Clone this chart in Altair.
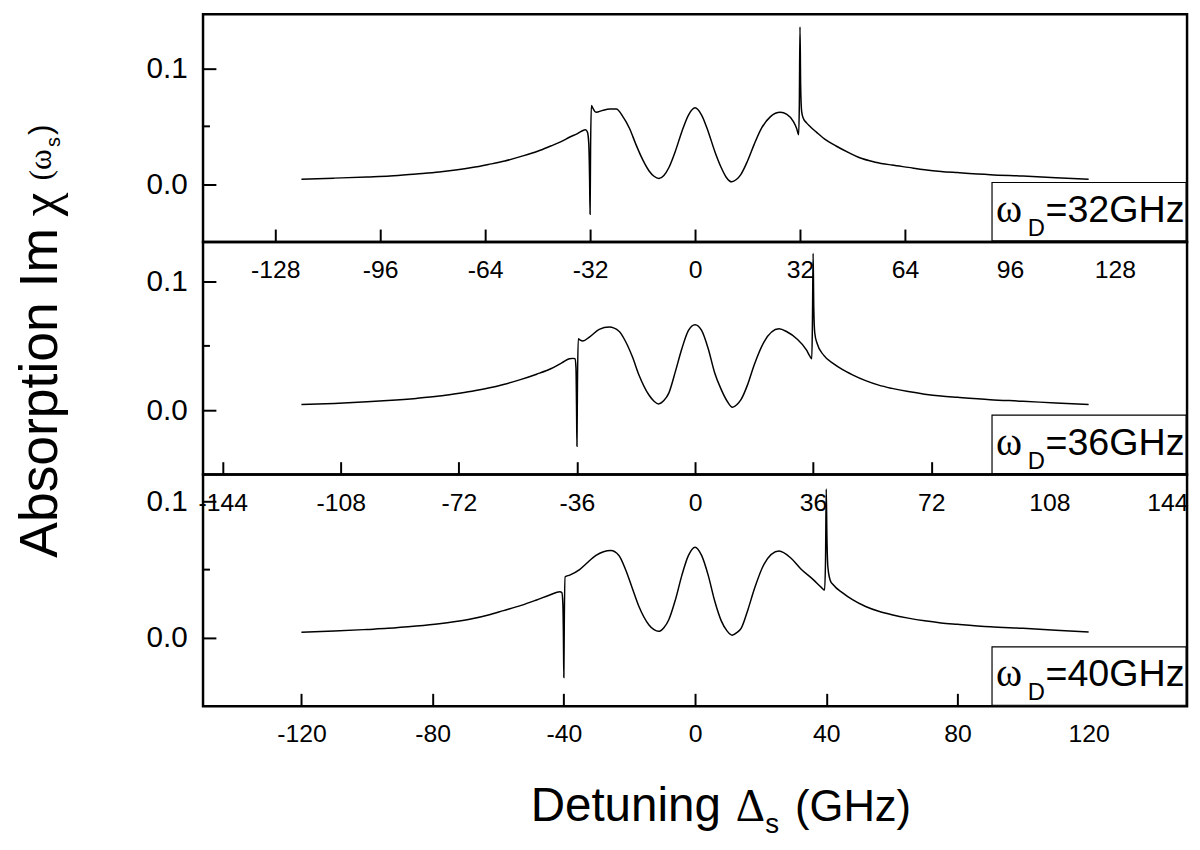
import altair as alt
import pandas as pd

# ---------------- data ----------------
# panel 1 : omega_D = 32 GHz
p1_x = [-120, -110, -100, -93, -85, -78, -73, -68, -63, -58, -53, -48, -44, -41, -38, -36,
        -34.5, -33.4, -32.8, -32.4, -32.15, -32.0, -31.85, -31.6, -31.2, -30.2, -28, -26, -24,
        -22, -20, -18, -16, -14, -12.5, -11, -9.5, -8, -6, -4, -2, 0, 2, 4, 6, 8, 9.5, 11.2,
        12.6, 14, 16, 18, 20, 23, 26, 28, 30, 31.0, 31.6, 31.8, 32.0, 32.2, 32.5, 33, 34, 35,
        37, 40, 43, 47, 50, 55, 60, 65, 70, 75, 80, 90, 100, 110, 120]
p1_y = [0.0043, 0.0052, 0.0062, 0.0070, 0.0088, 0.0105, 0.0122, 0.0143, 0.0170, 0.0200,
        0.0240, 0.0285, 0.0330, 0.0365, 0.0410, 0.0435, 0.0460, 0.0470, 0.0450, 0.0350,
        0.0050, -0.0260, 0.0300, 0.0680, 0.0660, 0.0621, 0.0640, 0.0650, 0.0650, 0.0584,
        0.0484, 0.0342, 0.0214, 0.0114, 0.0068, 0.0049, 0.0075, 0.0142, 0.0285, 0.0456,
        0.0598, 0.0660, 0.0598, 0.0456, 0.0285, 0.0142, 0.0060, 0.0020, 0.0040, 0.0085,
        0.0200, 0.0342, 0.0470, 0.0584, 0.0621, 0.0604, 0.0540, 0.0480, 0.0427, 0.0700,
        0.1360, 0.0850, 0.0630, 0.0570, 0.0530, 0.0500, 0.0450, 0.0380, 0.0330, 0.0270,
        0.0230, 0.0190, 0.0165, 0.0145, 0.0125, 0.0110, 0.0100, 0.0082, 0.0070, 0.0056,
        0.0043]

# panel 2 : omega_D = 36 GHz
p2_x = [-120, -110, -100, -93.7, -85, -78, -73.5, -68, -63, -58.4, -53, -48.3, -44, -40.5,
        -38.3, -37.2, -36.6, -36.3, -36.12, -36.0, -35.85, -35.6, -35.0, -34.2, -32.2, -29.2,
        -26.2, -23.1, -21.1, -19.1, -17.1, -14.1, -12.5, -11.1, -9.5, -8, -6, -4, -2, 0, 2,
        4, 6, 8, 9.8, 11.4, 12.8, 14, 16, 18, 21, 25.6, 28, 31, 34, 35.0, 35.6, 35.8, 36.0,
        36.2, 36.5, 37.2, 39.2, 42.3, 45, 48, 52, 56, 60, 65, 70, 75, 80, 90, 100, 110, 120]
p2_y = [0.0044, 0.0053, 0.0065, 0.0075, 0.0092, 0.0110, 0.0126, 0.0148, 0.0172, 0.0200,
        0.0240, 0.0280, 0.0322, 0.0370, 0.0400, 0.0403, 0.0400, 0.0330, 0.0000, -0.0280,
        0.0200, 0.0556, 0.0545, 0.0538, 0.0569, 0.0628, 0.0646, 0.0612, 0.0530, 0.0415,
        0.0274, 0.0120, 0.0070, 0.0049, 0.0075, 0.0133, 0.0300, 0.0480, 0.0620, 0.0664,
        0.0620, 0.0480, 0.0290, 0.0160, 0.0070, 0.0023, 0.0045, 0.0082, 0.0197, 0.0350,
        0.0530, 0.0633, 0.0610, 0.0556, 0.0467, 0.0420, 0.0400, 0.0700, 0.1220, 0.0800,
        0.0600, 0.0520, 0.0428, 0.0360, 0.0315, 0.0275, 0.0230, 0.0195, 0.0170, 0.0145,
        0.0125, 0.0110, 0.0100, 0.0082, 0.0070, 0.0056, 0.0044]

# panel 3 : omega_D = 40 GHz
p3_x = [-120, -110, -100, -93.7, -85, -78, -73.5, -68, -63, -58.4, -53, -48.3, -44.3, -41.2,
        -40.6, -40.3, -40.12, -40.0, -39.85, -39.6, -38.2, -35.2, -33.2, -30.2, -25.7, -23.2,
        -21.1, -19.1, -17.1, -14.1, -12.5, -11.1, -9.5, -8, -6, -4, -2, 0, 2, 4, 6, 8, 9.8,
        11.3, 12.8, 14.1, 16.1, 18.1, 21.1, 25.6, 29.2, 32.2, 36.2, 38.5, 39.5, 39.8, 40.0,
        40.2, 40.5, 41.2, 42.2, 45, 48, 52, 56, 60, 65, 70, 75, 80, 90, 100, 110, 120]
p3_y = [0.0041, 0.0050, 0.0062, 0.0070, 0.0087, 0.0104, 0.0118, 0.0140, 0.0168, 0.0200,
        0.0238, 0.0278, 0.0314, 0.0338, 0.0332, 0.0250, 0.0000, -0.0290, 0.0150, 0.0447,
        0.0460, 0.0500, 0.0543, 0.0604, 0.0640, 0.0604, 0.0495, 0.0362, 0.0230, 0.0097,
        0.0060, 0.0048, 0.0075, 0.0133, 0.0278, 0.0460, 0.0604, 0.0664, 0.0604, 0.0460,
        0.0270, 0.0125, 0.0050, 0.0020, 0.0040, 0.0072, 0.0205, 0.0360, 0.0543, 0.0636,
        0.0585, 0.0507, 0.0423, 0.0370, 0.0350, 0.0600, 0.1090, 0.0750, 0.0520, 0.0423,
        0.0387, 0.0330, 0.0280, 0.0230, 0.0195, 0.0170, 0.0145, 0.0125, 0.0110, 0.0100,
        0.0082, 0.0070, 0.0056, 0.0044]

x_ticks_1 = [-128, -96, -64, -32, 0, 32, 64, 96, 128]
x_ticks_2 = [-144, -108, -72, -36, 0, 36, 72, 108, 144]
x_ticks_3 = [-120, -80, -40, 0, 40, 80, 120]
y_ticks = [0.0, 0.1]
y_minor = [0.05]
labels = ["32", "36", "40"]

X_DOMAIN = [-150, 150]
W = 994
FONT = "Liberation Sans"
SERIF = "Liberation Serif"
one = pd.DataFrame({"a": [0]})


def txt(s, x, y, size, font=FONT, angle=0, align="left"):
    return alt.Chart(one).mark_text(
        text=s, font=font, fontSize=size, align=align, baseline="alphabetic",
        color="black", angle=angle
    ).encode(x=alt.value(x), y=alt.value(y))


def panel(xs, ys, h, ydom, xticks, lab, extra):
    df = pd.DataFrame({"d": xs, "v": ys})
    xsc = alt.Scale(domain=X_DOMAIN, nice=False, zero=False)
    ysc = alt.Scale(domain=ydom, nice=False, zero=False)
    xax = alt.Axis(values=xticks, title=None, grid=False, domain=False, offset=-13,
                   tickSize=13, tickWidth=2, tickColor="black", labelFontSize=25,
                   labelPadding=16, labelFont=FONT, labelColor="black",
                   labelExpr="'' + datum.value", labelFlush=False, labelOverlap=False)
    yax = alt.Axis(values=y_ticks, format=".1f", title=None, grid=False, domain=False,
                   offset=-13, tickSize=13, tickWidth=2, tickColor="black",
                   labelFontSize=30, labelPadding=16, labelFont=FONT, labelColor="black",
                   labelFlush=False, labelOverlap=False)
    line = alt.Chart(df).mark_line(color="black", strokeWidth=1.5,
                                   interpolate="monotone").encode(
        x=alt.X("d:Q", scale=xsc, axis=xax),
        y=alt.Y("v:Q", scale=ysc, axis=yax),
    )
    minor = alt.Chart(pd.DataFrame({"v": y_minor})).mark_rule(
        color="black", strokeWidth=2).encode(
        y=alt.Y("v:Q", scale=ysc, axis=yax),
        x=alt.value(0), x2=alt.value(7),
    )
    box = alt.Chart(one).mark_rect(fill="white", stroke="black", strokeWidth=1.2).encode(
        x=alt.value(797), x2=alt.value(993), y=alt.value(h - 60), y2=alt.value(h - 1)
    )
    layers = [line, minor, box,
              txt("ω", 801, h - 20, 40, SERIF),
              txt("D", 833, h - 6, 24),
              txt("=" + lab + "GHz", 851, h - 20, 38)] + extra
    return alt.layer(*layers).properties(width=W, height=h)


# y axis title pieces (placed in the middle panel, whose top is at y=0)
ytitle = [
    txt("Absorption Im", -148, 319, 54, angle=270),
    txt("χ", -148, -26, 54, SERIF, angle=270),
    txt("(ω", -154, -62, 32, SERIF, angle=270),
    txt("s", -144, -96, 20, angle=270),
    txt(")", -154, -108, 32, angle=270),
]
# x axis title pieces (placed in the bottom panel)
xtitle = [
    txt("Detuning", 331, 350, 48),
    txt("Δ", 538, 350, 46, SERIF),
    txt("s", 568, 362, 28),
    txt("(GHz)", 598, 350, 44),
]

c1 = panel(p1_x, p1_y, 230, [-0.05, 0.147], x_ticks_1, labels[0], [])
c2 = panel(p2_x, p2_y, 235, [-0.05, 0.1308], x_ticks_2, labels[1], ytitle)
c3 = panel(p3_x, p3_y, 234, [-0.05, 0.1196], x_ticks_3, labels[2], xtitle)

chart = alt.vconcat(c1, c2, c3, spacing=0, bounds="flush").properties(
    padding={"left": 4, "top": 0, "right": 2, "bottom": 10}
).configure(background="white").configure_view(stroke="black", strokeWidth=2.5)

chart.save("out.html", embed_options={"renderer": "svg", "actions": False})
